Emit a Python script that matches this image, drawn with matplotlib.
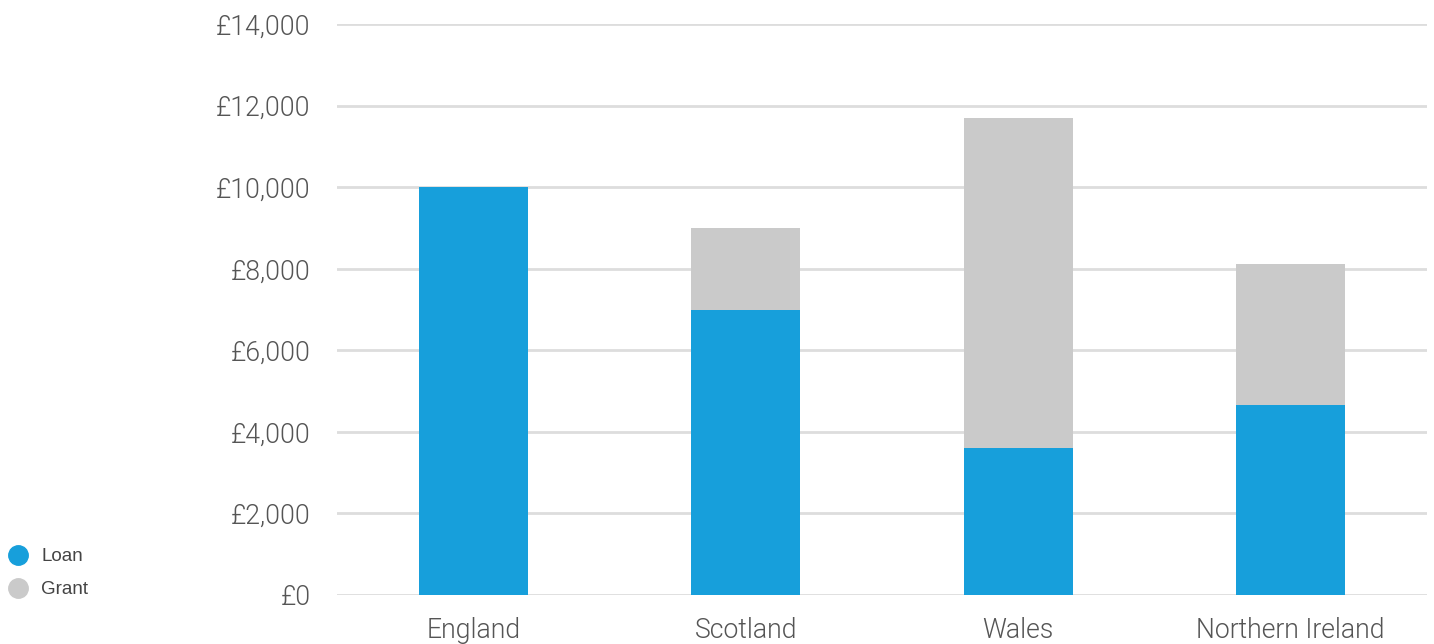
import numpy as np
import matplotlib.pyplot as plt
from matplotlib.lines import Line2D
from matplotlib.ticker import FuncFormatter

# values (GBP)
countries = ["England", "Scotland", "Wales", "Northern Ireland"]
loan = [10000, 7000, 3600, 4650]
grant = [0, 2000, 8100, 3475]
yticks = [0, 2000, 4000, 6000, 8000, 10000, 12000, 14000]

blue = "#179fdb"
grey = "#cacaca"

fig = plt.figure(figsize=(14.34, 6.44), dpi=100)
ax = fig.add_axes([0.235, 0.0761, 0.76, 0.8866])

x = np.arange(len(countries))
ax.bar(x, loan, width=0.4, color=blue, zorder=3)
ax.bar(x, grant, width=0.4, bottom=loan, color=grey, zorder=3)

ax.set_xlim(-0.5, len(countries) - 0.5)
ax.set_ylim(0, 14000)
ax.set_yticks(yticks)
ax.yaxis.set_major_formatter(FuncFormatter(lambda v, p: "£{:,.0f}".format(v)))
ax.set_xticks(x)
ax.set_xticklabels(countries)

ax.grid(axis="y", color="#dddddd", linewidth=2, zorder=0)
for s in ax.spines.values():
    s.set_visible(False)
ax.tick_params(length=0, labelsize=19.2, labelcolor="#555555")
ax.tick_params(axis="y", pad=19)
ax.tick_params(axis="x", pad=16)
for lab in ax.get_xticklabels() + ax.get_yticklabels():
    lab.set_family(["Roboto", "DejaVu Sans"])
    lab.set_fontweight(300)

handles = [Line2D([], [], marker="o", ls="none", ms=14, color=blue, label="Loan"),
           Line2D([], [], marker="o", ls="none", ms=14, color=grey, label="Grant")]
fig.legend(handles=handles, loc="center left", bbox_to_anchor=(0.006, 0.11),
           frameon=False, handlelength=1, handletextpad=0.75, labelspacing=0.85,
           borderpad=0, borderaxespad=0,
           prop={"family": "Liberation Sans", "size": 13.5}, labelcolor="#444444")

fig.savefig("out.png", dpi=100)
